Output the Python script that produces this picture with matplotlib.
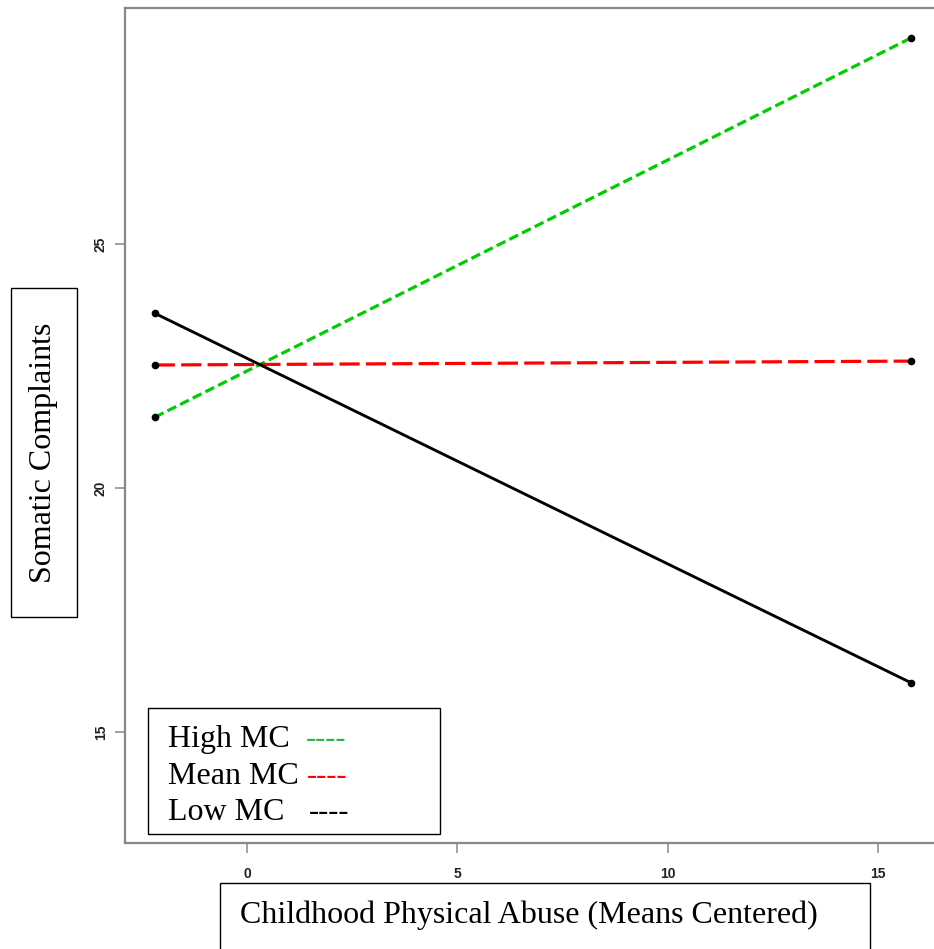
import matplotlib
matplotlib.use("Agg")
import matplotlib.pyplot as plt
from matplotlib.patches import Rectangle

# ---- data ----
x_ends = [-2.19, 15.78]
high_mc = [21.45, 29.22]
mean_mc = [22.52, 22.60]
low_mc = [23.58, 16.01]
x_ticks = [0, 5, 10, 15]
y_ticks = [15, 20, 25]
legend_labels = ["High MC", "Mean MC", "Low MC"]
xlabel = "Childhood Physical Abuse (Means Centered)"
ylabel = "Somatic Complaints"

plt.rcParams['lines.scale_dashes'] = False
W, H = 934, 949
fig = plt.figure(figsize=(W / 100, H / 100), dpi=100)

def fx(px):
    return px / W

def fy(py):
    return 1 - py / H

ax = fig.add_axes([fx(124.5), fy(843), fx(934) - fx(124.5), fy(8) - fy(843)])
ax.set_xlim(-2.91, 16.33)
ax.set_ylim(12.725, 29.836)

lw = 2.3
ax.plot(x_ends, high_mc, color='#00cd00', lw=lw, dashes=(7.0, 3.2), zorder=2)
ax.plot(x_ends, mean_mc, color='#ff0000', lw=lw, dashes=(14.5, 4.5), zorder=2)
ax.plot(x_ends, low_mc, color='black', lw=lw * 0.9, zorder=2)
for ys in (high_mc, mean_mc, low_mc):
    ax.plot(x_ends, ys, 'o', color='black', ms=4.5, zorder=3)

ax.set_xticks(x_ticks)
ax.set_yticks(y_ticks)
ax.set_xticklabels([str(t) for t in x_ticks], fontfamily='Liberation Sans',
                   fontweight='bold', fontsize=10, color='#222222')
ax.set_yticklabels([str(t) for t in y_ticks], fontfamily='Liberation Sans',
                   fontweight='bold', fontsize=10, color='#222222',
                   rotation=90, va='center')
ax.tick_params(axis='both', direction='out', length=7, width=1.1, color='#888888')
ax.tick_params(axis='x', pad=10)
ax.tick_params(axis='y', pad=5)
for s in ('left', 'bottom', 'top'):
    ax.spines[s].set_color('#888888')
    ax.spines[s].set_linewidth(1.6)
ax.spines['right'].set_visible(False)

# ---- boxes and texts ----
serif = 'Liberation Serif'
fs = 23

# y label box
fig.patches.append(Rectangle((fx(11), fy(617)), fx(77) - fx(11), fy(288) - fy(617),
                             transform=fig.transFigure, fill=False, ec='black', lw=1.0))
fig.text(fx(44), fy(453), ylabel, rotation=90, ha='center', va='center',
         fontfamily=serif, fontsize=fs)

# x label box
fig.patches.append(Rectangle((fx(220), fy(960)), fx(870) - fx(220), fy(883) - fy(960),
                             transform=fig.transFigure, fill=False, ec='black', lw=1.0,
                             clip_on=False))
fig.text(fx(240), fy(923), xlabel, ha='left', va='baseline',
         fontfamily=serif, fontsize=fs)

# legend box
fig.patches.append(Rectangle((fx(148), fy(834)), fx(440) - fx(148), fy(708) - fy(834),
                             transform=fig.transFigure, fill=True, fc='white',
                             ec='black', lw=1.0, zorder=5))
baselines = [747, 784, 820]
dash_x = [306, 307, 309]
dash_colors = ['#2db34a', '#ff0000', 'black']
for lab, b, dx, c in zip(legend_labels, baselines, dash_x, dash_colors):
    fig.text(fx(168), fy(b), lab, ha='left', va='baseline',
             fontfamily=serif, fontsize=fs, zorder=6)
    fig.text(fx(dx), fy(b), '----', ha='left', va='baseline',
             fontfamily=serif, fontsize=fs * 0.95, color=c, zorder=6)

fig.savefig('out.png', dpi=100)
